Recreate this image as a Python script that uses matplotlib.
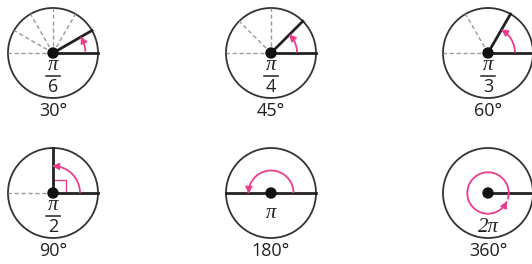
import numpy as np
import matplotlib.pyplot as plt
from matplotlib.patches import Circle, Rectangle

# angles shown in each circle (degrees)
angles = [30, 45, 60, 90, 180, 360]
rad_num = ['π', 'π', 'π', 'π', 'π', '2π']
rad_den = ['6', '4', '3', '2', '', '']
deg_labels = ['30°', '45°', '60°', '90°', '180°', '360°']
# dashed reference spokes
dashed = [[60, 90, 120, 150, 180], [90, 135, 180], [120, 180], [180], [], []]
# pink arc: radius fraction, start and end angle
arc_r = [0.72, 0.58, 0.6, 0.6, 0.5, 0.46]
arc_a0 = [4, 3, 3, 2, 2, -15]
arc_a1 = [27, 42, 57, 88, 178, 333]

pink = '#ec3c8e'
dark = '#222222'

fig = plt.figure(figsize=(5.32, 2.64), dpi=100)
ax = fig.add_axes([0, 0, 1, 1])
ax.set_xlim(0, 532)
ax.set_ylim(264, 0)
ax.set_aspect('equal')
ax.axis('off')

R = 45
xs = [53, 271, 488]
ys = [53, 193]


def pt(cx, cy, r, a):
    t = np.radians(a)
    return cx + r * np.cos(t), cy - r * np.sin(t)


for i, ang in enumerate(angles):
    cx = xs[i % 3]
    cy = ys[i // 3]
    ax.add_patch(Circle((cx, cy), R, fill=False, ec='#333333', lw=1.3))
    for d in dashed[i]:
        x1, y1 = pt(cx, cy, R, d)
        ax.plot([cx, x1], [cy, y1], color='#999999', lw=1.0, ls=(0, (3, 2)))
    # solid sides of the angle
    if ang == 180:
        ax.plot([cx - R, cx + R], [cy, cy], color=dark, lw=2.0)
    else:
        x1, y1 = pt(cx, cy, R, 0)
        ax.plot([cx, x1], [cy, y1], color=dark, lw=2.0)
        if ang != 360:
            x1, y1 = pt(cx, cy, R, ang)
            ax.plot([cx, x1], [cy, y1], color=dark, lw=2.0)
    if ang == 90:
        ax.add_patch(Rectangle((cx, cy - 13), 13, 13, fill=False, ec=pink, lw=1.0))
    # pink arc with arrowhead
    r = arc_r[i] * R
    a = np.linspace(arc_a0[i], arc_a1[i], 100)
    px, py = pt(cx, cy, r, a)
    ax.plot(px, py, color=pink, lw=1.3)
    xa, ya = pt(cx, cy, r, arc_a1[i] - 6)
    xb, yb = pt(cx, cy, r, arc_a1[i] + 4)
    ax.annotate('', xy=(xb, yb), xytext=(xa, ya),
                arrowprops=dict(arrowstyle='-|>', color=pink, lw=0.9,
                                mutation_scale=11, shrinkA=0, shrinkB=0))
    ax.add_patch(Circle((cx, cy), 5, color='#111111', zorder=5))
    # labels
    if rad_den[i]:
        ax.text(cx, cy + 13, rad_num[i], ha='center', va='center', fontsize=15,
                family='Liberation Serif', style='italic', color='#222222')
        ax.plot([cx - 7, cx + 7], [cy + 23, cy + 23], color='#222222', lw=1.1)
        ax.text(cx, cy + 34, rad_den[i], ha='center', va='center', fontsize=13,
                family='Open Sans', color='#222222')
    elif ang == 180:
        ax.text(cx, cy + 21, rad_num[i], ha='center', va='center', fontsize=15,
                family='Liberation Serif', style='italic', color='#222222')
    else:
        ax.text(cx, cy + 34, rad_num[i], ha='center', va='center', fontsize=15,
                family='Liberation Serif', style='italic', color='#222222')
    ax.text(cx, cy + 58, deg_labels[i], ha='center', va='center', fontsize=13,
            family='Open Sans', color='#222222')

fig.savefig('out.png', dpi=100)
